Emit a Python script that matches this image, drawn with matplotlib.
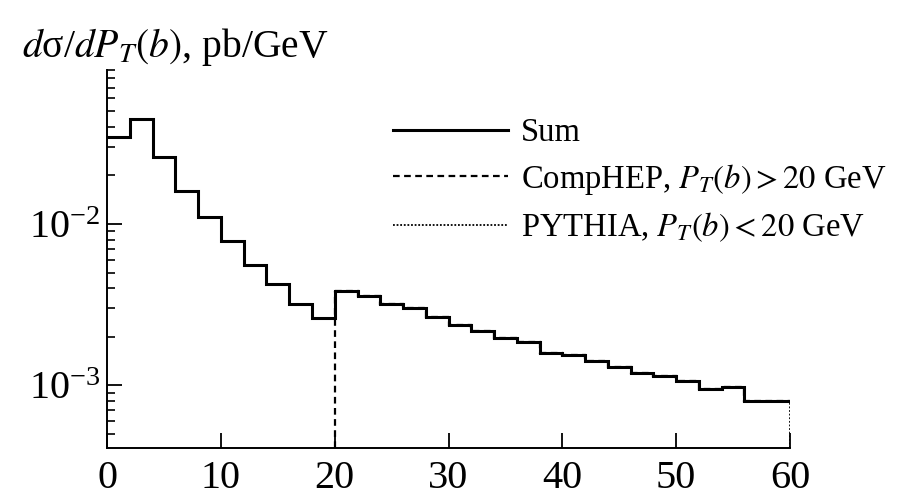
import numpy as np
import matplotlib
matplotlib.use("Agg")
import matplotlib.pyplot as plt

plt.rcParams['font.family'] = ['Liberation Serif', 'DejaVu Serif']
plt.rcParams['mathtext.fontset'] = 'stix'

# bin edges in P_T(b), GeV (2 GeV bins)
edges_low = [0, 2, 4, 6, 8, 10, 12, 14, 16, 18, 20]
edges_high = [20, 22, 24, 26, 28, 30, 32, 34, 36, 38, 40,
              42, 44, 46, 48, 50, 52, 54, 56, 58, 60]

# PYTHIA, P_T(b) < 20 GeV  (pb/GeV)
pythia_vals = [0.0346, 0.0445, 0.0260, 0.0161, 0.0111,
               0.00785, 0.00558, 0.00425, 0.00321, 0.00262]
# CompHEP, P_T(b) > 20 GeV  (pb/GeV)
comphep_vals = [0.00386, 0.00356, 0.00318, 0.00302, 0.00264,
                0.00236, 0.00216, 0.00197, 0.00186, 0.00159,
                0.00154, 0.00141, 0.00130, 0.00119, 0.00114,
                0.00106, 0.000944, 0.000982, 0.000800, 0.000800]

edges_all = edges_low[:-1] + edges_high
sum_vals = pythia_vals + comphep_vals

ymin, ymax = 4.1e-4, 0.09

fig = plt.figure(figsize=(9.08, 4.97), dpi=100)
ax = fig.add_axes([0.118, 0.099, 0.752, 0.760])

# components (drawn underneath the sum)
ax.stairs(pythia_vals, edges_low, baseline=None, color='black', lw=1.3,
          linestyle=(0, (1, 1)), label=r'PYTHIA, $P_T(b) < 20$ GeV', zorder=2)
ax.stairs(comphep_vals, edges_high, baseline=None, color='black', lw=1.6,
          linestyle=(0, (3, 2)), label=r'CompHEP, $P_T(b) > 20$ GeV', zorder=2)
ax.vlines(edges_high[0], ymin, comphep_vals[0], color='black', lw=1.6,
          linestyle=(0, (3, 2)), zorder=2)
ax.vlines(edges_high[-1], ymin, comphep_vals[-1], color='black', lw=1.3,
          linestyle=(0, (1, 1)), zorder=2)

# total
ax.stairs(sum_vals, edges_all, baseline=None, color='black', lw=2.2,
          label='Sum', zorder=3)

ax.set_yscale('log')
ax.set_xlim(0, 60)
ax.set_ylim(ymin, ymax)
ax.set_xticks([0, 10, 20, 30, 40, 50, 60])

for s in ['top', 'right']:
    ax.spines[s].set_visible(False)
for s in ['left', 'bottom']:
    ax.spines[s].set_linewidth(1.4)

ax.tick_params(axis='both', which='major', direction='in', length=10.5,
               width=1.3, labelsize=29)
ax.tick_params(axis='y', which='minor', direction='in', length=6, width=1.2)
ax.tick_params(axis='x', which='major', pad=9)
ax.tick_params(axis='y', which='major', pad=5)
ax.tick_params(axis='x', which='minor', bottom=False)

handles, labels = ax.get_legend_handles_labels()
order = [2, 1, 0]
ax.legend([handles[i] for i in order], [labels[i] for i in order],
          loc='upper left', bbox_to_anchor=(0.400, 0.909), frameon=False,
          fontsize=23.5, handlelength=3.5, handletextpad=0.4,
          labelspacing=0.42, borderaxespad=0)

fig.text(0.024, 0.885, r'$d$σ/$dP_T(b)$, pb/GeV', fontsize=28.5,
         va='baseline', ha='left')

fig.savefig('out.png', dpi=100)
